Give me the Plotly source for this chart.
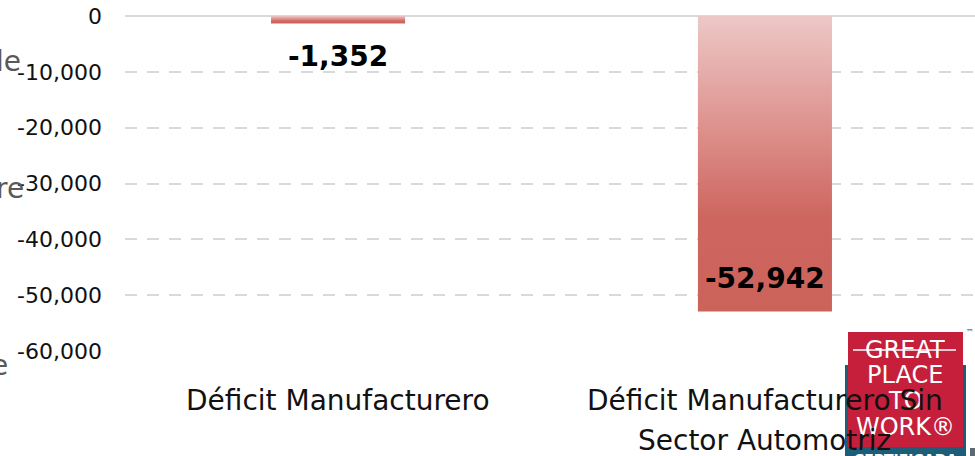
import plotly.graph_objects as go

# chart data
categories = ["Déficit Manufacturero", "Déficit Manufacturero Sin Sector Automotriz"]
category_lines = [["Déficit Manufacturero"], ["Déficit Manufacturero Sin", "Sector Automotriz"]]
values = [-1352, -52942]
y_ticks = [0, -10000, -20000, -30000, -40000, -50000, -60000]
y_tick_text = [f"{v:,}" for v in y_ticks]

# cut-off text from the neighbouring slide box, and the logo texts
side_fragments = ["le", "re", "e"]
logo_lines = ["GREAT", "PLACE", "TO", "WORK®"]

W, H = 975, 456
L, R, T, B = 125, 0, 16, 105
FONT = "DejaVu Sans"


def px(x):  # pixel -> paper x
    return (x - L) / (W - L - R)


def py(y):  # pixel -> paper y
    return (H - B - y) / (H - T - B)


fig = go.Figure()

half = 0.157
grad = [[0, "#cc635b"], [0.32, "#cd665f"], [0.62, "#de918d"], [1, "#ecc8c7"]]
for i, v in enumerate(values):
    fig.add_trace(go.Scatter(
        x=[i - half, i + half, i + half, i - half, i - half],
        y=[0, 0, v, v, 0], mode="lines", fill="toself",
        fillgradient=dict(type="vertical", colorscale=grad),
        line=dict(width=0), name=categories[i], showlegend=False, hoverinfo="skip"))

ann = []
# data labels
for i, v in enumerate(values):
    ann.append(dict(x=i, y=v, xref="x", yref="y", text=f"<b>{v:,}</b>", showarrow=False,
                    xanchor="center", yanchor="middle", yshift=-33 if i == 0 else 33,
                    font=dict(family=FONT, size=28, color="#000000")))

# side fragments
for txt, (xr, yc) in zip(side_fragments, [(23, 62), (26, 188), (10, 366)]):
    ann.append(dict(x=px(xr), y=py(yc), xref="paper", yref="paper", text=txt,
                    showarrow=False, xanchor="right", yanchor="middle",
                    font=dict(family=FONT, size=28, color="#595959")))

# logo
shapes = [
    dict(type="rect", xref="paper", yref="paper", x0=px(845), x1=px(966), y0=py(365), y1=py(470),
         fillcolor="#1d5d78", line=dict(width=0), layer="above"),
    dict(type="rect", xref="paper", yref="paper", x0=px(848), x1=px(963), y0=py(332), y1=py(447),
         fillcolor="#c51f3c", line=dict(width=0), layer="above"),
    dict(type="line", xref="paper", yref="paper", x0=px(853), x1=px(956), y0=py(350), y1=py(350),
         line=dict(color="#ffffff", width=1.5), layer="above"),
    dict(type="rect", xref="paper", yref="paper", x0=px(970), x1=px(980), y0=py(448), y1=py(470),
         fillcolor="#5b6a70", line=dict(width=0), layer="above"),
]
for txt, yc in zip(logo_lines, [350, 375, 401, 427]):
    ann.append(dict(x=px(905), y=py(yc), xref="paper", yref="paper", text=txt, showarrow=False,
                    xanchor="center", yanchor="middle",
                    font=dict(family=FONT, size=24, color="#ffffff")))
ann.append(dict(x=px(964), y=py(332), xref="paper", yref="paper", text="™", showarrow=False,
                xanchor="left", yanchor="middle", font=dict(family=FONT, size=8, color="#444444")))
ann.append(dict(x=px(905), y=py(459), xref="paper", yref="paper", text="<b>CERTIFICADA</b>",
                showarrow=False, xanchor="center", yanchor="middle",
                font=dict(family=FONT, size=14, color="#ffffff")))

# category labels
for i, lines in enumerate(category_lines):
    for j, line in enumerate(lines):
        ann.append(dict(x=i, y=0, xref="x", yref="paper", text=line, showarrow=False,
                        xanchor="center", yanchor="middle", yshift=-(49 + 40 * j),
                        font=dict(family=FONT, size=28, color="#111111")))

fig.update_layout(
    width=W, height=H, margin=dict(l=L, r=R, t=T, b=B),
    plot_bgcolor="#ffffff", paper_bgcolor="#ffffff", showlegend=False,
    annotations=ann, shapes=shapes,
    xaxis=dict(range=[-0.499, 1.492], showticklabels=False, showgrid=False, zeroline=False,
               fixedrange=True, automargin=False),
    yaxis=dict(range=[-60000, 0], tickvals=y_ticks, ticktext=y_tick_text,
               tickfont=dict(family=FONT, size=22, color="#111111"), ticklabelstandoff=22,
               showgrid=True, gridcolor="#d9d9d9", gridwidth=2, griddash="12px,10px",
               zeroline=True, zerolinecolor="#d9d9d9", zerolinewidth=2, fixedrange=True,
               automargin=False),
)

# drop the default body margin so the figure sits at the window's top-left corner
fig.write_html("out.html", config={"displayModeBar": False},
               post_script="document.body.style.margin='0';")
